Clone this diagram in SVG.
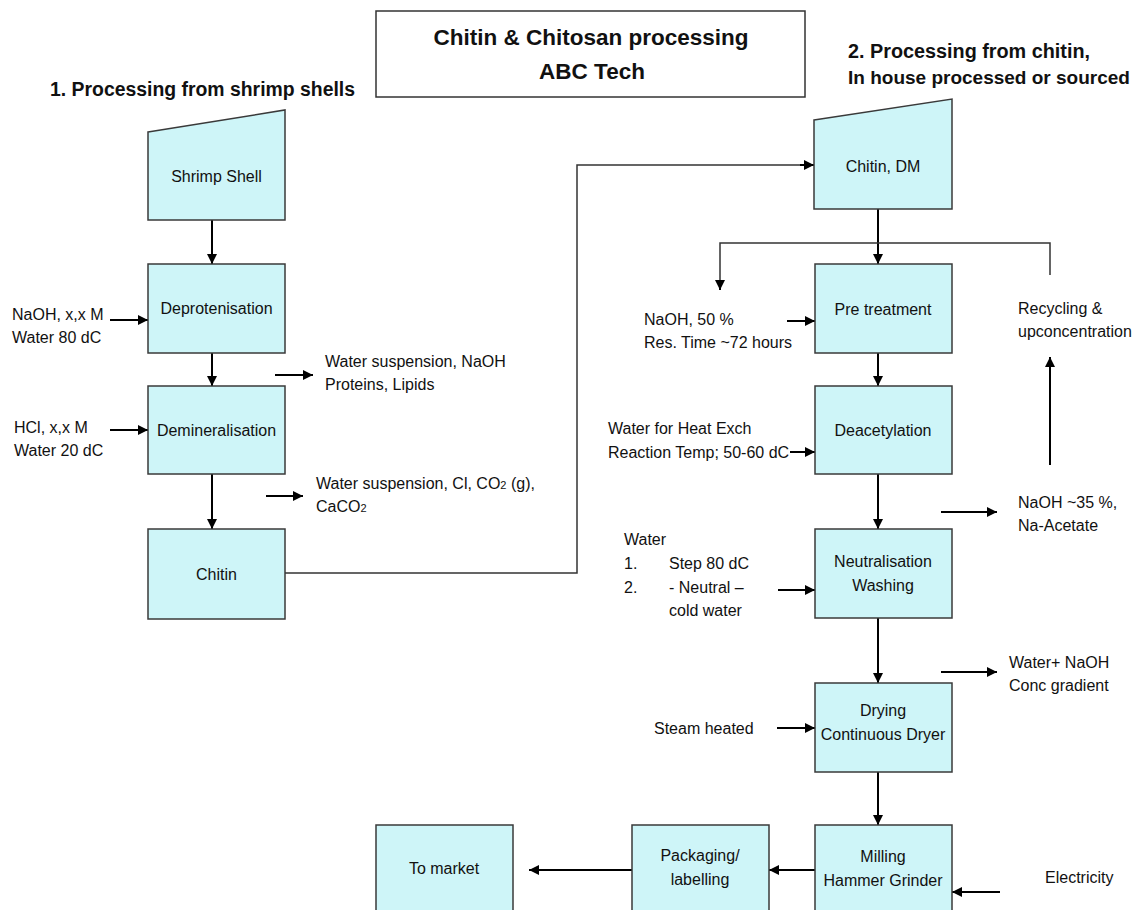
<svg xmlns="http://www.w3.org/2000/svg" width="1140" height="910" viewBox="0 0 1140 910">
<style>
.node{fill:#CEF5F8;stroke:#3a3a3a;stroke-width:1.5}
.t{font-family:"Liberation Sans",Arial,sans-serif;font-size:16px;fill:#111}
.c{text-anchor:middle}
.h{font-weight:bold;font-size:20px}
.ti{font-weight:bold;font-size:22.5px}
.a{stroke:#000;stroke-width:2;fill:none;marker-end:url(#ah)}
.l{stroke:#333;stroke-width:1.5;fill:none}
.sub{font-size:11px}
</style>
<defs>
<marker id="ah" markerWidth="11" markerHeight="11" refX="10" refY="5" orient="auto" markerUnits="userSpaceOnUse">
<path d="M0,0 L10,5 L0,10 z" fill="#000"/>
</marker>
</defs>
<rect width="1140" height="910" fill="#fff"/>

<g id="title">
<rect x="376" y="11" width="429" height="86" fill="#fff" stroke="#333" stroke-width="1.5"/>
<text class="t ti c" x="591" y="45" textLength="315" lengthAdjust="spacingAndGlyphs">Chitin &amp; Chitosan processing</text>
<text class="t ti c" x="592" y="79">ABC Tech</text>
</g>
<g id="heading1"><text class="t h" x="50" y="96" textLength="305" lengthAdjust="spacingAndGlyphs">1. Processing from shrimp shells</text></g>
<g id="heading2">
<text class="t h" x="848" y="58" style="font-size:19.5px" textLength="242" lengthAdjust="spacingAndGlyphs">2. Processing from chitin,</text>
<text class="t h" x="848" y="84" style="font-size:19px">In house processed or sourced</text>
</g>

<g id="connectors">
<line class="a" x1="212" y1="220" x2="212" y2="264"/>
<line class="a" x1="212" y1="353" x2="212" y2="386"/>
<line class="a" x1="212" y1="474" x2="212" y2="529"/>
<line class="a" x1="110" y1="320" x2="148" y2="320"/>
<line class="a" x1="110" y1="430" x2="148" y2="430"/>
<line class="a" x1="275" y1="375" x2="313" y2="375"/>
<line class="a" x1="266" y1="496" x2="303" y2="496"/>
<polyline class="l" points="285,573 577,573 577,165 805,165"/>
<line class="a" x1="800" y1="165" x2="814" y2="165"/>
<line class="a" x1="878" y1="209" x2="878" y2="264"/>
<polyline class="l" points="1050,275 1050,243 720,243 720,282"/>
<line class="a" x1="720" y1="280" x2="720" y2="290"/>
<line class="a" x1="787" y1="321" x2="815" y2="321"/>
<line class="a" x1="1050" y1="465" x2="1050" y2="357"/>
<line class="a" x1="878" y1="353" x2="878" y2="386"/>
<line class="a" x1="790" y1="452" x2="815" y2="452"/>
<line class="a" x1="878" y1="474" x2="878" y2="529"/>
<line class="a" x1="941" y1="512" x2="997" y2="512"/>
<line class="a" x1="778" y1="590" x2="815" y2="590"/>
<line class="a" x1="878" y1="618" x2="878" y2="683"/>
<line class="a" x1="941" y1="672" x2="997" y2="672"/>
<line class="a" x1="777" y1="728" x2="815" y2="728"/>
<line class="a" x1="878" y1="772" x2="878" y2="825"/>
<line class="a" x1="815" y1="870" x2="769" y2="870"/>
<line class="a" x1="632" y1="870" x2="529" y2="870"/>
<line class="a" x1="1000" y1="892" x2="952" y2="892"/>
</g>

<g id="shrimp-shell">
<polygon class="node" points="148,132 285,110 285,220 148,220"/>
<text class="t c" x="216.5" y="182">Shrimp Shell</text>
</g>
<g id="deprotenisation">
<rect class="node" x="148" y="264" width="137" height="89"/>
<text class="t c" x="216.5" y="314">Deprotenisation</text>
</g>
<g id="demineralisation">
<rect class="node" x="148" y="386" width="137" height="88"/>
<text class="t c" x="216.5" y="436">Demineralisation</text>
</g>
<g id="chitin">
<rect class="node" x="148" y="529" width="137" height="90"/>
<text class="t c" x="216.5" y="580">Chitin</text>
</g>

<g id="labels-left">
<text class="t" x="12" y="320">NaOH, x,x M</text>
<text class="t" x="12" y="343">Water 80 dC</text>
<text class="t" x="14" y="433">HCl, x,x M</text>
<text class="t" x="14" y="456">Water 20 dC</text>
<text class="t" x="325" y="367">Water suspension, NaOH</text>
<text class="t" x="325" y="390">Proteins, Lipids</text>
<text class="t" x="316" y="489">Water suspension, Cl, CO<tspan class="sub">2</tspan> (g),</text>
<text class="t" x="316" y="512">CaCO<tspan class="sub">2</tspan></text>
</g>

<g id="chitin-dm">
<polygon class="node" points="814,120 952,99 952,209 814,209"/>
<text class="t c" x="883" y="172">Chitin, DM</text>
</g>
<g id="pre-treatment">
<rect class="node" x="815" y="264" width="137" height="89"/>
<text class="t c" x="883" y="315">Pre treatment</text>
</g>
<g id="deacetylation">
<rect class="node" x="815" y="386" width="137" height="88"/>
<text class="t c" x="883" y="436">Deacetylation</text>
</g>
<g id="neutralisation">
<rect class="node" x="815" y="529" width="137" height="89"/>
<text class="t c" x="883" y="567">Neutralisation</text>
<text class="t c" x="883" y="591">Washing</text>
</g>
<g id="drying">
<rect class="node" x="815" y="683" width="137" height="89"/>
<text class="t c" x="883" y="716">Drying</text>
<text class="t c" x="883" y="740">Continuous Dryer</text>
</g>
<g id="milling">
<rect class="node" x="815" y="825" width="137" height="100"/>
<text class="t c" x="883" y="862">Milling</text>
<text class="t c" x="883" y="886">Hammer Grinder</text>
</g>
<g id="packaging">
<rect class="node" x="632" y="825" width="137" height="100"/>
<text class="t c" x="700" y="861">Packaging/</text>
<text class="t c" x="700" y="885">labelling</text>
</g>
<g id="to-market">
<rect class="node" x="376" y="825" width="137" height="100"/>
<text class="t c" x="444" y="874">To market</text>
</g>

<g id="labels-right">
<text class="t" x="644" y="325">NaOH, 50 %</text>
<text class="t" x="644" y="348">Res. Time ~72 hours</text>
<text class="t" x="1018" y="314">Recycling &amp;</text>
<text class="t" x="1018" y="337">upconcentration</text>
<text class="t" x="608" y="434">Water for Heat Exch</text>
<text class="t" x="608" y="458">Reaction Temp; 50-60 dC</text>
<text class="t" x="1018" y="508">NaOH ~35 %,</text>
<text class="t" x="1018" y="531">Na-Acetate</text>
<text class="t" x="624" y="545">Water</text>
<text class="t" x="624" y="569">1.</text>
<text class="t" x="669" y="569">Step 80 dC</text>
<text class="t" x="624" y="593">2.</text>
<text class="t" x="669" y="593">- Neutral –</text>
<text class="t" x="669" y="616">cold water</text>
<text class="t" x="1009" y="668">Water+ NaOH</text>
<text class="t" x="1009" y="691">Conc gradient</text>
<text class="t" x="654" y="734">Steam heated</text>
<text class="t" x="1045" y="883">Electricity</text>
</g>
</svg>
